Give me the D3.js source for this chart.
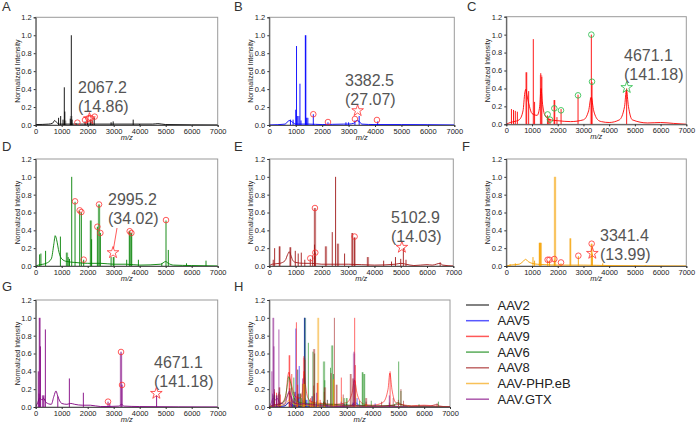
<!DOCTYPE html>
<html><head><meta charset="utf-8">
<script src="https://cdn.jsdelivr.net/npm/d3@7"></script>
<style>
body{margin:0;background:#fff}
svg{display:block}
text{font-family:"Liberation Sans",Arial,sans-serif}
</style>
</head><body><svg id="c" width="697" height="424"></svg>
<script>
// ---------- DATA ----------
const seriesNames  = ["AAV2","AAV5","AAV9","AAV6","AAV8","AAV-PHP.eB","AAV.GTX"];
const seriesColors = ["#000000","#0000ff","#ff0000","#008000","#a01818","#f5a000","#800080"];
const markerColors = ["#ff3030","#ff3030","#22bb44","#ff3030","#ff3030","#ff3030","#ff3030"];
const panelLetters = ["A","B","C","D","E","F","G","H"];
const xTicks = [0,1000,2000,3000,4000,5000,6000,7000];
const yTicks = [0,0.2,0.4,0.6,0.8,1.0,1.2];
const annoMass = ["2067.2","3382.5","4671.1","2995.2","5102.9","3341.4","4671.1"];
const annoIntensity = ["(14.86)","(27.07)","(141.18)","(34.02)","(14.03)","(13.99)","(141.18)"];

// continuum (m/z, intensity)
const baseAAV2 = [[0,0.005],[500,0.01],[650,0.02],[730,0.05],[800,0.03],[900,0.01],[1500,0.01],[2000,0.01],[3000,0.01],[3750,0.01],[4500,0.01],[4700,0.015],[5000,0.005],[7000,0]];
const baseAAV5 = [[0,0],[600,0.01],[700,0.04],[780,0.05],[880,0.03],[1000,0.01],[1500,0.01],[2000,0.005],[2800,0.01],[3000,0.01],[3200,0.02],[3300,0.05],[3400,0.04],[3500,0.01],[4000,0.005],[5000,0.005],[7000,0]];
const baseAAV9 = [[0,0],[150,0.02],[300,0.03],[500,0.05],[650,0.15],[720,0.35],[760,0.39],[800,0.33],[900,0.2],[1000,0.12],[1200,0.1],[1300,0.2],[1350,0.4],[1400,0.25],[1500,0.1],[1700,0.05],[2000,0.04],[2500,0.03],[3000,0.05],[3200,0.15],[3300,0.3],[3400,0.15],[3600,0.04],[3700,0.03],[4000,0.02],[4400,0.05],[4600,0.2],[4670,0.38],[4750,0.2],[4900,0.05],[5500,0.015],[6000,0.02],[6500,0.01],[7000,0]];
const baseAAV6 = [[0,0],[100,0.01],[400,0.03],[600,0.08],[700,0.25],[750,0.34],[800,0.3],[900,0.15],[1000,0.08],[1200,0.05],[1500,0.04],[2000,0.03],[2500,0.03],[3000,0.02],[3500,0.02],[4000,0.01],[4800,0.02],[5000,0.05],[5100,0.03],[5300,0.01],[6000,0.005],[7000,0]];
const baseAAV8 = [[0,0],[100,0.02],[400,0.03],[600,0.06],[700,0.13],[760,0.16],[820,0.12],[900,0.06],[1000,0.04],[1300,0.03],[1600,0.03],[2000,0.02],[3000,0.02],[4000,0.01],[4800,0.02],[5000,0.03],[5200,0.02],[5500,0.005],[6000,0.015],[6200,0.01],[6500,0.03],[6600,0.01],[7000,0]];
const basePHP  = [[0,0],[150,0.01],[500,0.02],[650,0.05],[750,0.075],[850,0.05],[1000,0.03],[1200,0.02],[1500,0.015],[2000,0.01],[3000,0.01],[4000,0.005],[7000,0]];
const baseGTX  = [[0,0],[80,0.05],[150,0.1],[250,0.08],[300,0.1],[400,0.05],[600,0.03],[700,0.12],[780,0.18],[850,0.12],[1000,0.04],[1200,0.03],[1350,0.04],[1500,0.03],[1800,0.02],[2100,0.02],[2500,0.005],[3200,0.01],[3300,0.03],[3400,0.01],[4000,0.005],[7000,0]];

// sharp peaks (m/z, intensity)
const peaksAAV2 = [[880,0.08],[960,0.1],[1050,0.06],[1100,0.42],[1120,0.15],[1330,0.07],[1370,1.0],[1400,0.06],[1550,0.02],[1900,0.04],[2000,0.05],[2100,0.06],[2170,0.05],[2250,0.08],[2900,0.03],[2980,0.04],[3750,0.06],[4000,0.01]];
const peaksAAV5 = [[800,0.06],[900,0.06],[1000,0.17],[1030,0.88],[1060,0.1],[1120,0.1],[1160,0.46],[1200,0.05],[1370,1.0],[1420,0.08],[1665,0.12],[2220,0.03],[2900,0.03],[3000,0.03],[3240,0.05],[3400,0.1],[4100,0.04]];
const peaksAAV9 = [[200,0.17],[280,0.16],[350,0.15],[430,0.14],[780,0.58],[870,0.37],[1050,0.95],[1100,0.25],[1340,0.57],[1380,0.53],[1600,0.1],[1650,0.07],[1700,0.06],[1870,0.27],[1970,0.08],[2130,0.17],[2790,0.33],[3307,1.0],[3333,0.47],[4680,0.4]];
const peaksAAV6 = [[150,0.13],[200,0.14],[380,0.17],[950,0.33],[1200,0.15],[1250,0.1],[1300,0.08],[1385,1.0],[1513,0.72],[1692,0.62],[1756,0.6],[1846,0.07],[2120,0.51],[2150,0.3],[2372,0.44],[2436,0.69],[2487,0.37],[2900,0.1],[3000,0.1],[3500,0.07],[3615,0.39],[3679,0.37],[3950,0.07],[4850,0.03],[5012,0.51],[5100,0.18],[5800,0.03],[6550,0.06]];
const peaksAAV8 = [[150,0.07],[203,0.2],[393,0.22],[800,0.21],[989,0.17],[1100,0.14],[1217,0.15],[1350,0.07],[1559,0.08],[1650,0.12],[1720,0.24],[1736,0.65],[1749,0.15],[2154,0.22],[2395,0.38],[2522,1.0],[2611,0.25],[2864,0.14],[3156,0.37],[3245,0.32],[3750,0.1],[4350,0.06],[4650,0.05],[4800,0.1],[5000,0.08],[5100,0.2],[5200,0.07],[6500,0.04]];
const peaksPHP  = [[150,0.02],[350,0.03],[1038,0.1],[1100,0.06],[1297,0.26],[1340,0.26],[1608,0.06],[1680,0.06],[1868,0.07],[1894,1.0],[2127,0.03],[2490,0.31],[2802,0.11],[3320,0.25],[3346,0.14],[3750,0.03],[5000,0.01],[5400,0.01]];
const peaksGTX  = [[100,0.4],[130,0.15],[154,1.0],[180,0.68],[280,0.13],[372,0.87],[850,0.12],[1295,0.32],[1833,0.16],[2782,0.06],[2850,0.04],[3282,0.62],[3321,0.25],[4650,0.13]];

// light broad bands (m/z, intensity)
const bandsAAV2 = [[1130,0.05],[1365,0.1]];
const bandsAAV5 = [[1380,1.0],[1430,0.08],[1445,0.08]];
const bandsAAV9 = [[780,0.58],[1350,0.55],[1870,0.27],[3300,0.3]];
const bandsAAV6 = [[1200,0.15],[2120,0.51],[2436,0.69],[3000,0.1],[3615,0.39],[3679,0.37]];
const bandsAAV8 = [[393,0.22],[800,0.21],[1736,0.65],[2154,0.22],[2611,0.25],[3156,0.37],[3245,0.32],[3750,0.1]];
const bandsPHP  = [[1300,0.26],[1320,0.26],[1340,0.26],[1894,1.0],[2490,0.31],[3320,0.25]];
const bandsGTX  = [[154,1.0],[280,0.13],[320,0.13],[3282,0.6]];

// circled peaks and starred peak
const circAAV2 = [[1603,0.026],[1897,0.056],[2026,0.074],[2115,0.078],[2269,0.093]];
const circAAV5 = [[1665,0.12],[2220,0.033],[3240,0.067],[4073,0.056]];
const circAAV9 = [[1608,0.11],[1699,0.052],[1868,0.178],[2127,0.156],[2789,0.323],[3307,1.0],[3333,0.475]];
const circAAV6 = [[1513,0.725],[1692,0.624],[1756,0.605],[1846,0.071],[2372,0.44],[2436,0.69],[2487,0.37],[3615,0.39],[3679,0.37],[5012,0.515]];
const circAAV8 = [[1559,0.086],[1736,0.65],[1749,0.15],[3245,0.33]];
const circPHP  = [[1608,0.07],[1680,0.07],[1868,0.078],[2127,0.04],[2802,0.115],[3320,0.25]];
const circGTX  = [[2782,0.06],[3282,0.617],[3321,0.247]];
const starPeaks = [[2067,0.07],[3342,0.16],[4682,0.41],[2974,0.15],[5044,0.21],[3346,0.142],[4641,0.153]];

const bases = [baseAAV2,baseAAV5,baseAAV9,baseAAV6,baseAAV8,basePHP,baseGTX];
const peaks = [peaksAAV2,peaksAAV5,peaksAAV9,peaksAAV6,peaksAAV8,peaksPHP,peaksGTX];
const bands = [bandsAAV2,bandsAAV5,bandsAAV9,bandsAAV6,bandsAAV8,bandsPHP,bandsGTX];
const circles = [circAAV2,circAAV5,circAAV9,circAAV6,circAAV8,circPHP,circGTX];

// ---------- LAYOUT ----------
const panels = [
  {l:35.7,r:217.7,t:17.3,b:125, lx:2, ly:11, ax:78,  ay:93},
  {l:269.3,r:454.3,t:17.3,b:125, lx:234, ly:11, ax:345, ay:86},
  {l:506.3,r:686.3,t:16.7,b:124.3, lx:467, ly:11, ax:624, ay:61},
  {l:35.7,r:217.7,t:159,b:266, lx:2, ly:151, ax:108, ay:205},
  {l:269.3,r:453.3,t:159,b:266, lx:234, ly:151, ax:391, ay:223},
  {l:506.3,r:686.3,t:159,b:266, lx:462, ly:151, ax:600, ay:241},
  {l:35.7,r:217.7,t:300,b:407, lx:2, ly:291, ax:154, ay:368},
  {l:269.3,r:450,t:300,b:407, lx:234, ly:291}
];

const svg = d3.select("#c");
const defs = svg.append("defs");

function drawSeries(g, x, y, i, alpha) {
  const col = seriesColors[i];
  g.selectAll(null).data(bands[i]).join("rect")
    .attr("x", d => x(d[0]) - 1.3).attr("width", 2.6)
    .attr("y", d => y(d[1])).attr("height", d => y(0) - y(d[1]))
    .attr("fill", col).attr("opacity", 0.3 * alpha);
  const line = d3.line().x(d => x(d[0])).y(d => y(d[1])).curve(d3.curveMonotoneX);
  g.append("path").attr("d", line(bases[i])).attr("fill", "none")
    .attr("stroke", col).attr("stroke-width", 0.9).attr("opacity", alpha);
  g.selectAll(null).data(peaks[i]).join("line")
    .attr("x1", d => x(d[0])).attr("x2", d => x(d[0]))
    .attr("y1", y(0)).attr("y2", d => y(d[1]))
    .attr("stroke", col).attr("stroke-width", 0.9).attr("opacity", alpha);
}

panels.forEach((p, pi) => {
  const x = d3.scaleLinear().domain([0, 7000]).range([p.l, p.r]);
  const y = d3.scaleLinear().domain([0, 1.2]).range([p.b, p.t]);
  const g = svg.append("g");
  const cid = "clip" + pi;
  defs.append("clipPath").attr("id", cid).append("rect")
    .attr("x", p.l).attr("y", p.t).attr("width", p.r - p.l).attr("height", p.b - p.t);

  // frame
  g.append("rect").attr("x", p.l).attr("y", p.t).attr("width", p.r - p.l).attr("height", p.b - p.t)
    .attr("fill", "none").attr("stroke", "#9a9a9a").attr("stroke-width", 1);

  const plot = g.append("g").attr("clip-path", `url(#${cid})`);
  if (pi < 7) {
    drawSeries(plot, x, y, pi, 1);
  } else {
    for (let i = 0; i < 7; i++) drawSeries(plot, x, y, i, 0.65);
  }

  // axes
  const xa = g.append("g").attr("transform", `translate(0,${p.b})`)
    .call(d3.axisBottom(x).tickValues(xTicks).tickSize(2).tickPadding(1.5).tickFormat(d3.format("d")));
  const ya = g.append("g").attr("transform", `translate(${p.l},0)`)
    .call(d3.axisLeft(y).tickValues(yTicks).tickSize(2).tickPadding(2).tickFormat(d3.format(".1f")));
  [xa, ya].forEach(a => {
    a.select(".domain").attr("stroke", "#333").attr("stroke-width", 0.8);
    a.selectAll(".tick line").attr("stroke", "#333");
    a.selectAll(".tick text").attr("font-size", 7.5).attr("fill", "#222")
      .attr("font-family", '"Liberation Sans",Arial,sans-serif');
  });

  // axis titles
  g.append("text").attr("transform", `translate(${p.l - 16},${(p.t + p.b) / 2}) rotate(-90)`)
    .attr("text-anchor", "middle").attr("font-size", 7).attr("fill", "#222").text("Normalized Intensity");
  g.append("text").attr("x", (p.l + p.r) / 2).attr("y", p.b + 14.5)
    .attr("text-anchor", "middle").attr("font-size", 7.5).attr("font-style", "italic").attr("fill", "#222").text("m/z");

  // panel letter
  svg.append("text").attr("x", p.lx).attr("y", p.ly).attr("font-size", 13).attr("fill", "#333")
    .text(panelLetters[pi]);

  if (pi < 7) {
    const mc = markerColors[pi];
    plot.selectAll(null).data(circles[pi]).join("circle")
      .attr("cx", d => x(d[0])).attr("cy", d => y(d[1])).attr("r", 2.8)
      .attr("fill", "none").attr("stroke", mc).attr("stroke-width", 0.8);
    const s = starPeaks[pi];
    g.append("path").attr("d", d3.symbol(d3.symbolStar, 42)())
      .attr("transform", `translate(${x(s[0])},${y(s[1])})`)
      .attr("fill", "none").attr("stroke", mc).attr("stroke-width", 0.8);
    g.append("text").attr("x", p.ax).attr("y", p.ay).attr("font-size", 16).attr("fill", "#555").text(annoMass[pi]);
    g.append("text").attr("x", p.ax).attr("y", p.ay + 18.5).attr("font-size", 16).attr("fill", "#555").text(annoIntensity[pi]);
    if (pi === 3) {
      g.append("line").attr("x1", x(s[0]) + 0.5).attr("y1", y(s[1]) - 4)
        .attr("x2", p.ax + 9).attr("y2", p.ay + 23)
        .attr("stroke", "#ff3030").attr("stroke-width", 0.8);
    }
  }
});

// legend
const lg = svg.append("g");
seriesNames.forEach((n, i) => {
  const yy = 305 + i * 15.7;
  lg.append("line").attr("x1", 466).attr("x2", 489).attr("y1", yy).attr("y2", yy)
    .attr("stroke", seriesColors[i]).attr("stroke-width", 1.5).attr("opacity", 0.65);
  lg.append("text").attr("x", 497.5).attr("y", yy + 4.5).attr("font-size", 13).attr("fill", "#222").text(n);
});
</script>
</body></html>
